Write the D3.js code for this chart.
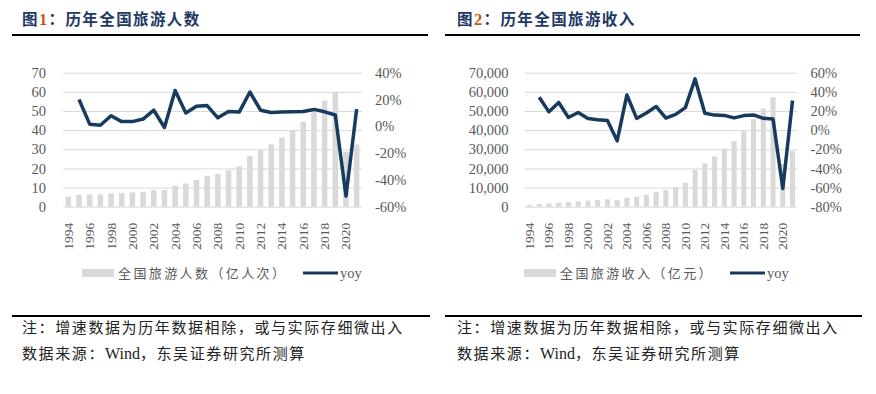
<!DOCTYPE html>
<html>
<head>
<meta charset="utf-8">
<script src="https://cdn.jsdelivr.net/npm/d3@7"></script>
<style>
  body { margin: 0; background: #fff; }
  svg { display: block; }
  .cjk { font-family: "Noto Sans CJK SC", sans-serif; }
  .num { font-family: "Liberation Serif", "Times New Roman", serif; }
</style>
</head>
<body>
<svg id="chart" width="876" height="394"></svg>
<script>
var years = [1994, 1995, 1996, 1997, 1998, 1999, 2000, 2001, 2002, 2003, 2004, 2005, 2006, 2007,
  2008, 2009, 2010, 2011, 2012, 2013, 2014, 2015, 2016, 2017, 2018, 2019, 2020, 2021];

// 全国旅游人数（亿人次）
var trips = [5.24, 6.29, 6.39, 6.44, 6.95, 7.19, 7.44, 7.84, 8.78, 8.70, 11.02, 12.12, 13.94, 16.10,
  17.12, 19.02, 21.03, 26.41, 29.57, 32.62, 36.11, 40.00, 44.40, 50.01, 55.39, 60.06, 28.79, 32.46];
var tripsYoy = [null, 20.0, 1.6, 0.8, 7.9, 3.5, 3.5, 5.4, 12.0, -0.9, 26.7, 10.0, 15.0, 15.5,
  6.3, 11.1, 10.6, 25.6, 12.0, 10.3, 10.7, 10.8, 11.0, 12.6, 10.8, 8.4, -52.1, 12.8];

// 全国旅游收入（亿元）
var income = [1023.5, 1375.7, 1638.4, 2112.7, 2391.2, 2831.9, 3175.5, 3522.4, 3878.4, 3442.3, 4710.7,
  5285.9, 6229.7, 7770.6, 8749.3, 10183.7, 12579.8, 19305.4, 22706.2, 26276.1, 30311.9, 34195.1,
  39390.0, 45660.8, 51278.3, 57250.9, 22286.3, 29190.7];
var incomeYoy = [null, 34.4, 19.1, 28.9, 13.2, 18.4, 12.1, 10.9, 10.1, -11.2, 36.8, 12.2, 17.9, 24.7,
  12.6, 16.4, 23.5, 53.5, 17.6, 15.7, 15.4, 12.8, 15.2, 15.9, 12.3, 11.6, -61.1, 31.0];

var yearTicks = [1994, 1996, 1998, 2000, 2002, 2004, 2006, 2008, 2010, 2012, 2014, 2016, 2018, 2020];

var BAR = '#d9d9d9';
var LINE = '#173a5e';
var GRID = '#d9d9d9';
var LABEL = '#595959';
var TITLE = '#1f3864';

var svg = d3.select('#chart');

function panel(opt) {
  var g = svg.append('g');
  var top = 72.7, bottom = 206.7;

  var x = d3.scaleBand().domain(years).range([opt.x0, opt.x1]).paddingInner(0.48).paddingOuter(0.24);
  var y = d3.scaleLinear().domain([0, opt.leftMax]).range([bottom, top]);
  var y2 = d3.scaleLinear().domain(opt.rightDomain).range([bottom, top]);

  // title
  var t = g.append('text').attr('class', 'cjk')
    .attr('x', opt.titleX).attr('y', 25)
    .attr('font-size', 15.5).attr('font-weight', 'bold')
    .attr('letter-spacing', 1.4).attr('fill', TITLE);
  t.append('tspan').text('图');
  t.append('tspan').attr('fill', '#c55a11').attr('class', 'num').attr('font-size', 16.5).text(opt.num);
  t.append('tspan').text('：' + opt.title);

  g.append('line').attr('x1', opt.ruleX0).attr('x2', opt.ruleX1)
    .attr('y1', 35).attr('y2', 35).attr('stroke', '#000').attr('stroke-width', 2);

  // left axis + grid
  var ya = g.append('g').attr('transform', 'translate(' + opt.x0 + ',0)')
    .call(d3.axisLeft(y).ticks(7).tickSize(-(opt.x1 - opt.x0)).tickPadding(opt.leftPad)
      .tickFormat(opt.leftFmt));
  ya.select('.domain').remove();
  ya.selectAll('line').attr('stroke', GRID).attr('stroke-width', 1);
  ya.selectAll('text').attr('class', 'num').attr('font-size', 14.5).attr('fill', LABEL);

  // right axis
  var ra = g.append('g').attr('transform', 'translate(' + opt.x1 + ',0)')
    .call(d3.axisRight(y2).tickValues(d3.range(opt.rightDomain[0], opt.rightDomain[1] + 1, 20))
      .tickSize(0).tickPadding(opt.rightPad).tickFormat(function(d) { return d + '%'; }));
  ra.select('.domain').remove();
  ra.selectAll('text').attr('class', 'num').attr('font-size', 14.5).attr('fill', LABEL);

  // bars
  g.selectAll('.bar').data(opt.bars).enter().append('rect')
    .attr('x', function(d, i) { return x(years[i]); })
    .attr('width', x.bandwidth())
    .attr('y', function(d) { return y(d); })
    .attr('height', function(d) { return bottom - y(d); })
    .attr('fill', BAR);

  // yoy line
  var pts = opt.yoy.map(function(v, i) { return [years[i], v]; }).filter(function(d) { return d[1] !== null; });
  g.append('path').datum(pts)
    .attr('fill', 'none').attr('stroke', LINE).attr('stroke-width', 3.5)
    .attr('stroke-linejoin', 'round')
    .attr('d', d3.line()
      .x(function(d) { return x(d[0]) + x.bandwidth() / 2; })
      .y(function(d) { return y2(d[1]); }));

  // year labels
  var xa = g.append('g').attr('transform', 'translate(0,' + bottom + ')')
    .call(d3.axisBottom(x).tickValues(yearTicks).tickSize(0).tickPadding(0));
  xa.select('.domain').remove();
  xa.selectAll('text').attr('class', 'num').attr('font-size', 13.5).attr('fill', LABEL)
    .attr('text-anchor', 'end')
    .attr('transform', 'rotate(-90)')
    .attr('x', -16).attr('y', 0).attr('dy', '0.33em');

  // legend
  var ly = 273;
  g.append('rect').attr('x', opt.legX).attr('y', ly - 4).attr('width', 32).attr('height', 8).attr('fill', BAR);
  g.append('text').attr('class', 'cjk').attr('x', opt.legX + 36).attr('y', ly).attr('dy', '0.35em')
    .attr('font-size', 13).attr('letter-spacing', 2.4).attr('fill', LABEL).text(opt.legend);
  g.append('line').attr('x1', opt.lineX).attr('x2', opt.lineX + 35).attr('y1', ly).attr('y2', ly)
    .attr('stroke', LINE).attr('stroke-width', 3);
  g.append('text').attr('class', 'num').attr('x', opt.lineX + 37).attr('y', ly).attr('dy', '0.32em')
    .attr('font-size', 14.5).attr('fill', LABEL).text('yoy');

  // footer
  g.append('line').attr('x1', opt.ruleX0).attr('x2', opt.ruleX1 + 2)
    .attr('y1', 316).attr('y2', 316).attr('stroke', '#000').attr('stroke-width', 2);
  g.append('text').attr('class', 'cjk').attr('x', opt.titleX).attr('y', 328).attr('dy', '0.36em')
    .attr('font-size', 15).attr('letter-spacing', 1.6).attr('fill', '#222')
    .text('注：增速数据为历年数据相除，或与实际存细微出入');
  var s = g.append('text').attr('class', 'cjk').attr('x', opt.titleX).attr('y', 354).attr('dy', '0.36em')
    .attr('font-size', 15).attr('letter-spacing', 1.6).attr('fill', '#222');
  s.append('tspan').text('数据来源：');
  s.append('tspan').attr('class', 'num').attr('font-size', 16).attr('letter-spacing', 0).text('Wind');
  s.append('tspan').text('，东吴证券研究所测算');
}

panel({
  num: '1', title: '历年全国旅游人数', titleX: 22, ruleX0: 12, ruleX1: 428,
  x0: 63, x1: 362, leftMax: 70, leftPad: 17, leftFmt: d3.format('d'),
  rightDomain: [-60, 40], rightPad: 13,
  bars: trips, yoy: tripsYoy,
  legX: 82, lineX: 303, legend: '全国旅游人数（亿人次）'
});

panel({
  num: '2', title: '历年全国旅游收入', titleX: 457, ruleX0: 445, ruleX1: 860,
  x0: 524.6, x1: 797.4, leftMax: 70000, leftPad: 16, leftFmt: d3.format(','),
  rightDomain: [-80, 60], rightPad: 13,
  bars: income, yoy: incomeYoy,
  legX: 524, lineX: 730, legend: '全国旅游收入（亿元）'
});
</script>
</body>
</html>
